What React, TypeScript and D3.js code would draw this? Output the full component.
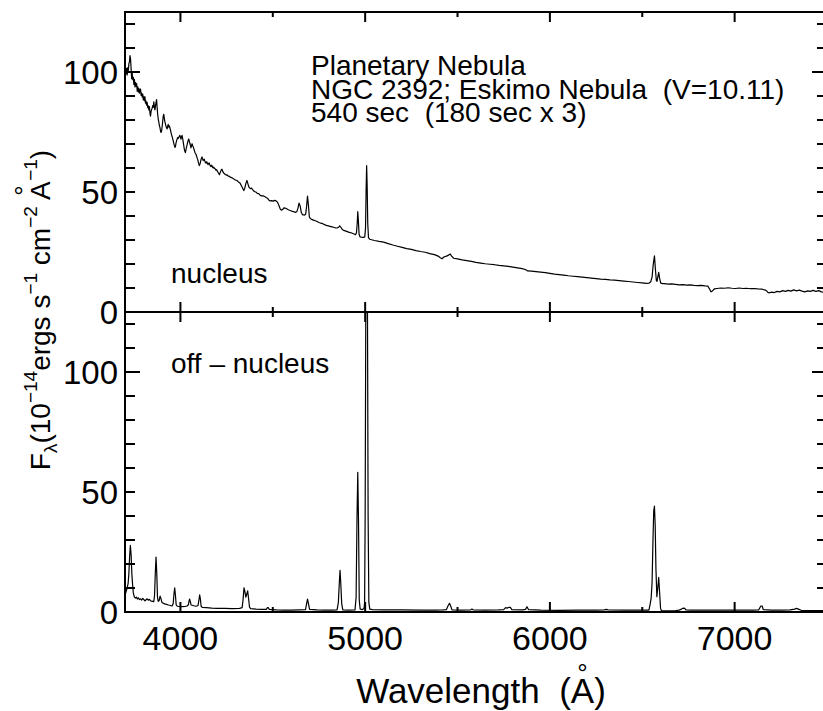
import React from "react";
import * as d3 from "d3";

// Wavelength axis (Angstrom) and flux axis (1e-14 erg s^-1 cm^-2 A^-1)
const waveDomain: [number, number] = [3700, 7500];
const fluxDomain: [number, number] = [0, 125];

const xMajorTicks = [4000, 5000, 6000, 7000];
const xMinorTicks = [4500, 5500, 6500];
const xTickLabels = ["4000", "5000", "6000", "7000"];
const yMajorTicks = [0, 100];
const yMinorTicks = [10, 20, 30, 40, 50, 60, 70, 80, 90, 110, 120];
const yTickValues = [0, 50, 100];
const yTickLabels = ["0", "50", "100"];

const titleLines = [
  "Planetary Nebula",
  "NGC 2392; Eskimo Nebula  (V=10.11)",
  "540 sec  (180 sec x 3)",
];
const panelLabels = ["nucleus", "off \u2013 nucleus"];

// Central-star spectrum: [wavelength, flux]
const nucleusSpectrum: [number, number][] = [
  [3700, 98.5], [3703, 100.5], [3706, 99.2], [3709, 101.5], [3712, 98.8], [3715, 101.8],
  [3718, 100.6], [3721, 103.5], [3724, 104.2], [3727, 106.8], [3730, 105.5], [3733, 101.5],
  [3736, 97.2], [3739, 99.5], [3742, 96.8], [3745, 97.8], [3748, 94.8], [3751, 96.9],
  [3754, 93.8], [3757, 95.6], [3760, 94.1], [3763, 95.2], [3766, 92], [3769, 93.8],
  [3772, 91.7], [3775, 93.2], [3778, 91.2], [3781, 92.6], [3784, 92.9], [3787, 90.3],
  [3790, 91.2], [3793, 89.6], [3796, 90.8], [3799, 88.4], [3802, 89.6], [3805, 88.1],
  [3808, 89.7], [3811, 87], [3814, 87.9], [3817, 86.2], [3820, 87.4], [3823, 85.1],
  [3826, 85.9], [3829, 84.2], [3832, 85.6], [3835, 83], [3838, 81.6], [3841, 83.5],
  [3844, 84.4], [3847, 84.9], [3850, 86], [3853, 85.3], [3856, 87.6], [3859, 85.4],
  [3862, 84.2], [3865, 85.9], [3868, 87.3], [3871, 88.5], [3874, 85.1], [3877, 82.3],
  [3880, 80.4], [3883, 79.1], [3886, 77.8], [3889, 76.9], [3892, 75.6], [3895, 74.8],
  [3898, 75.4], [3901, 77.2], [3904, 79.4], [3907, 81.6], [3910, 82.4], [3913, 80.6],
  [3916, 79.2], [3919, 78.4], [3922, 77.3], [3925, 76.8], [3928, 76.3], [3931, 77.4],
  [3934, 78.2], [3937, 77], [3940, 77.6], [3943, 76.8], [3946, 75.9], [3949, 74.8],
  [3952, 73.9], [3955, 73.1], [3958, 72.2], [3961, 71.4], [3964, 70.3], [3967, 69.4],
  [3970, 68.6], [3973, 68.9], [3976, 70.4], [3979, 71.3], [3982, 72], [3985, 72.7],
  [3988, 72.3], [3991, 72.8], [3994, 73.2], [3997, 73.6], [4000, 72.8], [4003, 72],
  [4006, 73], [4009, 73.6], [4012, 72.4], [4015, 70.9], [4018, 69.4], [4021, 67.9],
  [4024, 67], [4027, 66.4], [4030, 67.6], [4033, 68.7], [4036, 69.6], [4039, 70.7],
  [4042, 71.5], [4045, 72.1], [4048, 71.2], [4051, 70.3], [4054, 69.5], [4057, 68.4],
  [4060, 69.3], [4063, 70.1], [4066, 69.4], [4069, 68.9], [4072, 68.2], [4075, 67.4],
  [4078, 66.6], [4081, 66.1], [4084, 65.8], [4087, 65.1], [4090, 64.3], [4093, 63.6],
  [4096, 62.8], [4099, 61.8], [4102, 61], [4105, 61.5], [4108, 62.2], [4111, 63.4],
  [4114, 64.1], [4117, 64.6], [4120, 63.8], [4123, 63.1], [4126, 63.5], [4129, 63.7],
  [4132, 62.9], [4135, 62.3], [4138, 62], [4141, 62.6], [4144, 62.4], [4147, 61.8],
  [4150, 61.4], [4153, 62], [4156, 62.1], [4159, 61.4], [4162, 60.8], [4165, 60.6],
  [4168, 61.2], [4171, 60.9], [4174, 60.3], [4177, 60], [4180, 60.4], [4184, 59.9],
  [4188, 59.7], [4192, 59.1], [4196, 59.3], [4200, 58.7], [4204, 58.1], [4208, 57.6],
  [4211, 57.2], [4214, 57.8], [4218, 58.6], [4222, 59.4], [4225, 59.5], [4229, 58.6],
  [4233, 58], [4237, 57.7], [4241, 57.4], [4245, 57.3], [4249, 57], [4253, 57.1],
  [4257, 56.7], [4261, 56.6], [4265, 56.5], [4269, 56.2], [4273, 56.1], [4277, 55.9],
  [4281, 55.9], [4285, 55.6], [4289, 55.4], [4293, 55.3], [4297, 55], [4306, 54.8],
  [4314, 54.2], [4322, 53.8], [4330, 52.6], [4337, 51.6], [4343, 50.6], [4348, 51.5],
  [4354, 53.5], [4360, 54.8], [4365, 53.5], [4371, 52], [4378, 51.4], [4385, 51.6],
  [4392, 50.9], [4400, 50.2], [4408, 50], [4416, 49.4], [4424, 49.3], [4432, 48.6],
  [4440, 48.4], [4448, 48.4], [4456, 48.1], [4464, 47.7], [4471, 47.4], [4478, 46.7],
  [4486, 46.3], [4494, 46.4], [4502, 46.2], [4510, 46.5], [4518, 46.3], [4525, 45.8],
  [4532, 44.6], [4540, 43], [4547, 42.4], [4553, 42.7], [4560, 43.4], [4567, 43.3],
  [4575, 43], [4582, 42.7], [4590, 42.4], [4598, 42.2], [4606, 41.9], [4614, 41.8],
  [4622, 41.5], [4630, 41.8], [4636, 43.2], [4642, 45.4], [4648, 44.2], [4654, 41.6],
  [4660, 40.6], [4666, 40.5], [4672, 40.4], [4678, 40.8], [4683, 44], [4688, 48.3],
  [4693, 44.5], [4698, 39.6], [4703, 39], [4710, 38.6], [4720, 38.3], [4730, 38],
  [4740, 37.7], [4750, 37.3], [4760, 37], [4770, 36.8], [4780, 36.4], [4790, 36.1],
  [4800, 35.9], [4810, 35.7], [4820, 35.5], [4830, 35.3], [4840, 35], [4848, 35],
  [4856, 35.3], [4862, 35.9], [4868, 35.4], [4875, 34.5], [4883, 34], [4892, 33.8],
  [4900, 33.6], [4910, 33.3], [4920, 33.1], [4930, 32.8], [4940, 32.5], [4948, 32.2],
  [4953, 33], [4957, 37], [4960, 41.8], [4963, 38.5], [4967, 32.5], [4972, 31.3],
  [4980, 31.2], [4990, 31.1], [4998, 31.3], [5002, 35], [5005, 50], [5008, 61],
  [5011, 52], [5014, 37], [5018, 31], [5025, 30.3], [5035, 30.1], [5045, 29.9],
  [5050, 29.8], [5075, 29.4], [5100, 29.1], [5125, 28.5], [5150, 27.9], [5175, 27.4],
  [5200, 26.9], [5225, 26.4], [5250, 26.1], [5275, 25.6], [5300, 25.2], [5325, 24.9],
  [5350, 24.3], [5375, 23.9], [5395, 23.3], [5405, 22.7], [5416, 22.2], [5426, 22.9],
  [5440, 23.3], [5452, 23.7], [5460, 24.2], [5468, 23.3], [5479, 22.4], [5500, 22.1],
  [5525, 21.7], [5550, 21.4], [5575, 21.1], [5600, 20.7], [5625, 20.4], [5650, 20.1],
  [5675, 19.9], [5700, 19.7], [5725, 19.4], [5750, 19.2], [5775, 19], [5800, 18.7],
  [5825, 18.4], [5850, 18.1], [5870, 17.6], [5880, 17.1], [5900, 17], [5925, 16.8],
  [5950, 16.6], [5975, 16.4], [6000, 16.1], [6025, 15.8], [6050, 15.6], [6075, 15.4],
  [6100, 15.1], [6125, 14.9], [6150, 14.7], [6175, 14.5], [6200, 14.3], [6225, 14.1],
  [6250, 13.9], [6275, 13.7], [6300, 13.6], [6325, 13.4], [6350, 13.3], [6375, 13.1],
  [6400, 12.9], [6425, 12.7], [6450, 12.5], [6475, 12.3], [6500, 12.1], [6520, 11.9],
  [6536, 12], [6546, 12.6], [6553, 14.5], [6559, 19.5], [6566, 23.4], [6571, 18],
  [6576, 13.2], [6580, 12.8], [6584, 14.5], [6589, 16.5], [6594, 14], [6600, 12],
  [6610, 11.8], [6620, 11.8], [6640, 11.6], [6660, 11.7], [6680, 11.5], [6700, 11.3],
  [6720, 11.4], [6740, 11.2], [6760, 11.3], [6780, 11.1], [6800, 11], [6820, 11.1],
  [6840, 10.9], [6855, 10.8], [6865, 9.5], [6872, 8.4], [6880, 8.8], [6890, 9.6],
  [6905, 9.8], [6925, 10], [6945, 9.9], [6965, 10.1], [6985, 9.9], [7005, 9.8],
  [7025, 10], [7045, 9.8], [7065, 9.9], [7085, 9.7], [7105, 9.8], [7125, 9.6],
  [7150, 9.5], [7170, 9], [7180, 8.2], [7190, 8], [7200, 8.3], [7215, 8.1],
  [7230, 8.6], [7245, 8.4], [7260, 8.9], [7275, 8.6], [7290, 9], [7305, 8.7],
  [7320, 9.2], [7335, 8.8], [7350, 9.1], [7365, 8.7], [7380, 8.4], [7395, 8.8],
  [7410, 8.6], [7425, 9], [7440, 8.6], [7455, 8.9], [7470, 8.4], [7485, 8.2],
  [7500, 8.5],
];

// Nebular spectrum away from the star: [wavelength, flux]
const offNucleusSpectrum: [number, number][] = [
  [3700, 7], [3706, 8.5], [3712, 10], [3717, 12], [3721, 16], [3725, 23],
  [3729, 27.8], [3733, 24], [3737, 16], [3741, 11.5], [3745, 8], [3750, 6.4],
  [3756, 5.8], [3762, 6.2], [3767, 5.4], [3772, 5.9], [3778, 5.2], [3784, 5.5],
  [3790, 5], [3796, 5.7], [3802, 5.2], [3808, 4.6], [3814, 5.1], [3820, 5.5],
  [3826, 4.9], [3832, 5.3], [3838, 4.7], [3844, 4.5], [3850, 4.4], [3856, 4.3],
  [3860, 7], [3864, 16], [3868, 22.9], [3872, 16], [3876, 6], [3880, 4.4],
  [3885, 4.8], [3890, 6.6], [3895, 5.5], [3900, 4], [3906, 3.7], [3915, 3.4],
  [3925, 3.2], [3935, 2.9], [3945, 2.7], [3955, 2.5], [3961, 3.5], [3965, 7.5],
  [3969, 10.1], [3973, 7], [3977, 3], [3983, 2.4], [3995, 2.3], [4009, 2.2],
  [4025, 2.3], [4036, 2.5], [4043, 3], [4047, 4.6], [4050, 5.4], [4054, 4.2],
  [4058, 2.9], [4063, 2.8], [4072, 2.6], [4085, 2.4], [4095, 2.7], [4100, 4.8],
  [4104, 7.1], [4108, 5.5], [4112, 2.4], [4118, 1.9], [4140, 1.8], [4170, 1.6],
  [4200, 1.5], [4240, 1.5], [4280, 1.4], [4320, 1.5], [4334, 1.8], [4339, 5],
  [4344, 10.1], [4349, 8.5], [4354, 6.2], [4358, 7.2], [4364, 8.8], [4369, 5.5],
  [4374, 2], [4380, 1.4], [4410, 1.2], [4440, 1.1], [4465, 1.1], [4471, 1.8],
  [4476, 1.8], [4481, 1.1], [4520, 0.9], [4560, 0.8], [4600, 0.8], [4640, 0.9],
  [4677, 1], [4683, 3.5], [4688, 5.4], [4693, 3.5], [4699, 1.1], [4740, 0.9],
  [4780, 0.8], [4820, 0.8], [4848, 0.9], [4855, 4], [4860, 12], [4864, 17.4],
  [4868, 12], [4873, 3.5], [4879, 0.9], [4910, 0.8], [4945, 0.9], [4951, 6],
  [4956, 40], [4960, 58.2], [4964, 38], [4968, 5], [4973, 1.2], [4985, 1],
  [4994, 1.5], [4997, 3.9], [5000, 40], [5004, 140], [5008, 175], [5012, 140],
  [5016, 40], [5020, 4], [5025, 1.2], [5040, 1], [5100, 0.9], [5200, 0.9],
  [5300, 0.8], [5380, 0.8], [5420, 0.9], [5440, 1], [5450, 2.8], [5457, 3.6],
  [5463, 2.5], [5470, 0.9], [5520, 0.8], [5572, 0.9], [5578, 1.2], [5584, 0.9],
  [5650, 0.8], [5720, 0.9], [5750, 1], [5760, 1.8], [5768, 1.6], [5776, 1.9],
  [5786, 1.9], [5794, 1], [5850, 0.9], [5868, 1.1], [5876, 2.2], [5884, 1],
  [5950, 0.8], [6050, 0.7], [6150, 0.8], [6250, 0.8], [6295, 0.9], [6305, 1.1],
  [6315, 0.9], [6400, 0.8], [6500, 0.8], [6536, 0.8], [6542, 3], [6548, 5.7],
  [6553, 12], [6558, 30], [6562, 42], [6566, 44.1], [6570, 36], [6574, 18],
  [6579, 6.4], [6584, 10], [6589, 14.4], [6594, 8], [6599, 1.5], [6604, 0.5],
  [6620, 0.5], [6650, 0.5], [6680, 0.6], [6700, 0.8], [6712, 1.2], [6718, 1.5],
  [6724, 1.6], [6730, 1.5], [6736, 0.9], [6760, 0.8], [6850, 0.8], [6950, 0.8],
  [7050, 0.8], [7100, 0.8], [7130, 0.9], [7142, 2.5], [7149, 2.5], [7155, 1],
  [7200, 0.8], [7250, 0.8], [7300, 0.9], [7325, 1.2], [7335, 1.5], [7345, 1.2],
  [7360, 0.7], [7420, 0.6], [7500, 0.6],
];

const W = 823;
const H = 711;
const left = 125;
const right = 827;
const top = 12;
const mid = 312;
const bottom = 612;

const FONT = "'Liberation Sans', Arial, Helvetica, sans-serif";

export default function App() {
  const x = d3.scaleLinear().domain(waveDomain).range([left, right]);
  const yTop = d3.scaleLinear().domain(fluxDomain).range([mid, top]);
  const yBot = d3.scaleLinear().domain(fluxDomain).range([bottom, mid]);

  const lineTop = d3
    .line<[number, number]>()
    .x((d) => x(d[0]))
    .y((d) => yTop(d[1]));
  const lineBot = d3
    .line<[number, number]>()
    .x((d) => x(d[0]))
    .y((d) => yBot(d[1]));

  const axisStroke = { stroke: "#000", strokeWidth: 2 };

  // tick marks for one panel, drawn inward on all four sides
  const panelTicks = (
    y: d3.ScaleLinear<number, number>,
    y0: number,
    y1: number,
    key: string
  ) => (
    <g key={key}>
      {xMajorTicks.map((v) => (
        <g key={"xM" + v}>
          <line x1={x(v)} x2={x(v)} y1={y0} y2={y0 - 10} {...axisStroke} />
          <line x1={x(v)} x2={x(v)} y1={y1} y2={y1 + 10} {...axisStroke} />
        </g>
      ))}
      {xMinorTicks.map((v) => (
        <g key={"xm" + v}>
          <line x1={x(v)} x2={x(v)} y1={y0} y2={y0 - 5} {...axisStroke} />
          <line x1={x(v)} x2={x(v)} y1={y1} y2={y1 + 5} {...axisStroke} />
        </g>
      ))}
      {yMajorTicks.map((v) => (
        <g key={"yM" + v}>
          <line x1={left} x2={left + 15} y1={y(v)} y2={y(v)} {...axisStroke} />
          <line x1={right} x2={right - 15} y1={y(v)} y2={y(v)} {...axisStroke} />
        </g>
      ))}
      {yMinorTicks.map((v) => (
        <g key={"ym" + v}>
          <line x1={left} x2={left + 10} y1={y(v)} y2={y(v)} {...axisStroke} />
          <line x1={right} x2={right - 10} y1={y(v)} y2={y(v)} {...axisStroke} />
        </g>
      ))}
      {yTickValues.map((v, i) => (
        <text
          key={"yl" + v}
          x={118}
          y={y(v) + 11.5}
          textAnchor="end"
          fontSize={33}
          fontFamily={FONT}
        >
          {yTickLabels[i]}
        </text>
      ))}
    </g>
  );

  return (
    <svg
      width={W}
      height={H}
      style={{ position: "absolute", left: 0, top: 0, background: "#fff" }}
    >
      <defs>
        <clipPath id="clipTop">
          <rect x={left} y={top} width={right - left} height={mid - top} />
        </clipPath>
        <clipPath id="clipBot">
          <rect x={left} y={mid} width={right - left} height={bottom - mid} />
        </clipPath>
      </defs>
      <rect x={0} y={0} width={W} height={H} fill="#fff" />

      <path
        d={lineTop(nucleusSpectrum) || ""}
        fill="none"
        stroke="#000"
        strokeWidth={1.2}
        strokeLinejoin="round"
        clipPath="url(#clipTop)"
      />
      <path
        d={lineBot(offNucleusSpectrum) || ""}
        fill="none"
        stroke="#000"
        strokeWidth={1.2}
        strokeLinejoin="round"
        clipPath="url(#clipBot)"
      />

      {/* panel frames */}
      <rect
        x={left}
        y={top}
        width={right - left}
        height={bottom - top}
        fill="none"
        {...axisStroke}
      />
      <line x1={left} x2={right} y1={mid} y2={mid} {...axisStroke} />

      {panelTicks(yTop, mid, top, "top")}
      {panelTicks(yBot, bottom, mid, "bot")}

      {/* wavelength tick labels */}
      {xMajorTicks.map((v, i) => (
        <text
          key={"xl" + v}
          x={x(v)}
          y={650}
          textAnchor="middle"
          fontSize={34}
          fontFamily={FONT}
        >
          {xTickLabels[i]}
        </text>
      ))}

      {/* annotations */}
      {titleLines.map((t, i) => (
        <text
          key={"t" + i}
          x={311}
          y={75 + i * 23.5}
          fontSize={28}
          fontFamily={FONT}
          style={{ whiteSpace: "pre" }}
        >
          {t}
        </text>
      ))}
      <text x={171} y={283} fontSize={28} fontFamily={FONT}>
        {panelLabels[0]}
      </text>
      <text x={171} y={373} fontSize={28} fontFamily={FONT}>
        {panelLabels[1]}
      </text>

      {/* x axis title, Angstrom ring set above the A */}
      <text
        x={481}
        y={703}
        textAnchor="middle"
        fontSize={35}
        fontFamily={FONT}
        style={{ whiteSpace: "pre" }}
      >
        {"Wavelength  (A"}
        <tspan fontSize={26} dx={-16.9} dy={-21}>
          {"\u00b0"}
        </tspan>
        <tspan dx={6.5} dy={21}>
          {")"}
        </tspan>
      </text>

      {/* y axis title */}
      <text
        transform="translate(50,310) rotate(-90)"
        textAnchor="middle"
        fontSize={28}
        fontFamily={FONT}
        style={{ whiteSpace: "pre" }}
      >
        <tspan>F</tspan>
        <tspan fontSize={19} dy={7}>
          {"\u03bb"}
        </tspan>
        <tspan dy={-7}>(10</tspan>
        <tspan fontSize={19} dy={-13}>
          {"\u221214"}
        </tspan>
        <tspan dy={13}>ergs s</tspan>
        <tspan fontSize={19} dy={-13}>
          {"\u22121"}
        </tspan>
        <tspan dy={13}>{" cm"}</tspan>
        <tspan fontSize={19} dy={-13}>
          {"\u22122"}
        </tspan>
        <tspan dy={13}>{" A"}</tspan>
        <tspan fontSize={26} dx={-14.5} dy={-17}>
          {"\u00b0"}
        </tspan>
        <tspan fontSize={19} dx={4.5} dy={4}>
          {"\u22121"}
        </tspan>
        <tspan dy={13}>)</tspan>
      </text>
    </svg>
  );
}
